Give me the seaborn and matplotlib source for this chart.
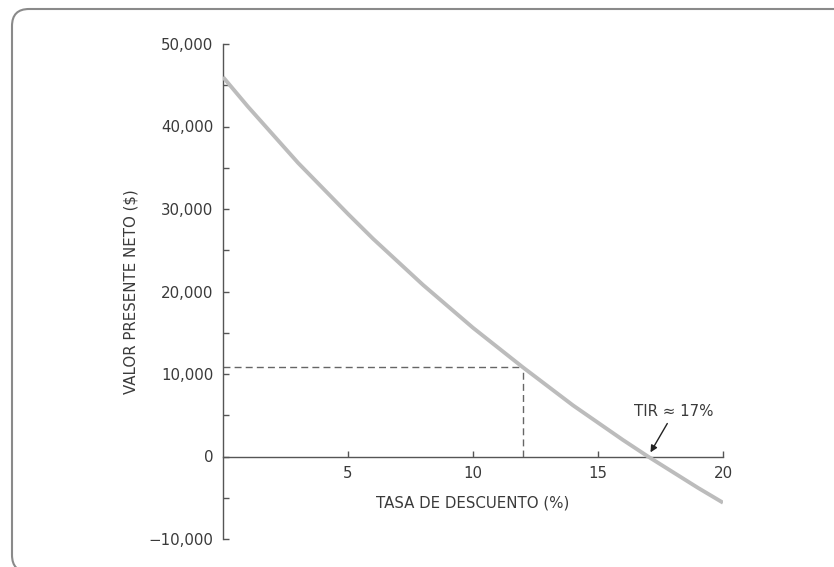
import numpy as np
import pandas as pd
import matplotlib
matplotlib.use("Agg")
import matplotlib.pyplot as plt
from matplotlib.patches import FancyBboxPatch
from matplotlib.ticker import MultipleLocator, FuncFormatter
import seaborn as sns

sns.set_style("white")
plt.rcParams['font.family'] = ['DejaVu Sans']

# NPV curve (discount rate in %, NPV in $)
rates = [0, 1, 2, 3, 4, 5, 6, 7, 8, 9, 10, 11, 12, 13, 14, 15, 16, 17, 18, 19, 20]
npv = [46000, 42400, 39000, 35600, 32500, 29400, 26400, 23600, 20800, 18200, 15600,
       13200, 10800, 8500, 6200, 4100, 2000, 0, -1900, -3800, -5600]

marked_rate = 12
marked_npv = 10800
irr = 17
irr_label = "TIR \u2248 17%"

x_ticks = [5, 10, 15, 20]
y_ticks = [-10000, 0, 10000, 20000, 30000, 40000, 50000]

df = pd.DataFrame({'rate': rates, 'npv': npv})

text_col = '#3a3a3a'
axis_col = '#555555'

fig = plt.figure(figsize=(8.34, 5.67), dpi=100)
ax = fig.add_axes([223/834, 1-539/567, 500/834, 495/567])

# rounded frame round the figure (runs off the right and bottom edges)
frame = FancyBboxPatch((0.12, -0.05), 10.0, 5.63,
                       boxstyle="round,pad=0,rounding_size=0.17",
                       transform=fig.dpi_scale_trans, fill=False,
                       edgecolor='#8a8a8a', linewidth=1.5, zorder=0)
fig.add_artist(frame)

sns.lineplot(data=df, x='rate', y='npv', ax=ax, color='#bcbcbc', linewidth=2.8,
             solid_capstyle='butt', zorder=3)

# dashed guides
ax.plot([0, marked_rate], [marked_npv, marked_npv], color='#666666', linestyle=(0, (5, 3)),
        linewidth=1.0, zorder=2)
ax.plot([marked_rate, marked_rate], [0, marked_npv], color='#666666', linestyle=(0, (5, 3)),
        linewidth=1.0, zorder=2)

ax.annotate(irr_label, xy=(irr + 0.1, 500), xytext=(18.05, 5450),
            ha='center', va='center', fontsize=10.8, color=text_col,
            arrowprops=dict(arrowstyle='-|>', color='#222222', lw=1.0,
                            shrinkA=1, shrinkB=0, mutation_scale=10))

ax.set_xlim(0, 20)
ax.set_ylim(-10000, 50000)

for s in ['top', 'right']:
    ax.spines[s].set_visible(False)
ax.spines['bottom'].set_position(('data', 0))
for s in ['left', 'bottom']:
    ax.spines[s].set_color(axis_col)
    ax.spines[s].set_linewidth(1.0)

ax.set_xticks(x_ticks)
ax.set_yticks(y_ticks)
ax.yaxis.set_minor_locator(MultipleLocator(5000))
ax.yaxis.set_major_formatter(FuncFormatter(lambda v, p: f"{int(v):,}".replace('-', '\u2212')))
ax.tick_params(axis='both', which='both', direction='in', length=4.5, width=1.0,
               color=axis_col, labelcolor=text_col, labelsize=10.8, pad=7)
ax.tick_params(axis='x', which='both', bottom=True, top=False)
ax.tick_params(axis='y', which='both', left=True, right=False)

ax.set_xlabel("TASA DE DESCUENTO (%)", fontsize=10.8, color=text_col)
ax.xaxis.set_label_coords(0.5, 0.088)
ax.set_ylabel("VALOR PRESENTE NETO ($)", fontsize=10.8, color=text_col)
ax.yaxis.set_label_coords(-0.168, 0.5)

ax.grid(False)
fig.savefig("out.png", dpi=100)
